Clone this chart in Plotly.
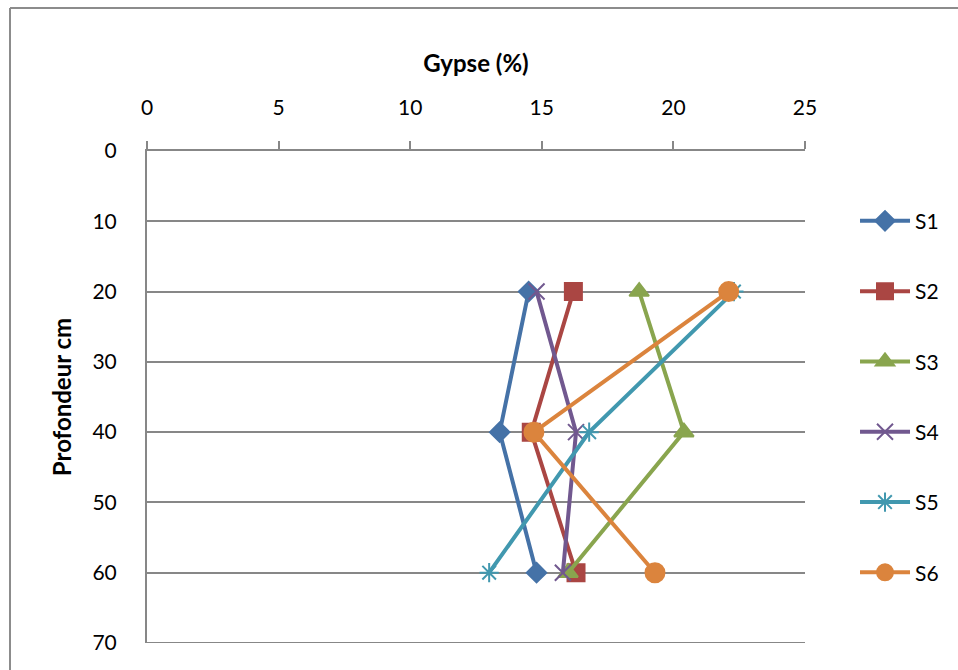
import plotly.graph_objects as go

# Gypsum content (%) by sampling depth (cm) for six soil profiles
depths = [20, 40, 60]
series_names = ["S1", "S2", "S3", "S4", "S5", "S6"]
s1 = [14.5, 13.4, 14.8]
s2 = [16.2, 14.6, 16.3]
s3 = [18.7, 20.4, 16.0]
s4 = [14.8, 16.3, 15.8]
s5 = [22.3, 16.8, 13.0]
s6 = [22.1, 14.7, 19.3]
x_ticks = [0, 5, 10, 15, 20, 25]
y_ticks = [0, 10, 20, 30, 40, 50, 60, 70]

colors = ["#4572A7", "#AA4643", "#89A54E", "#71588F", "#4198AF", "#DB843D"]
symbols = ["diamond", "square", "triangle-up", "x-thin-open", "asterisk-open", "circle"]
sizes = [15, 17, 17, 16, 16, 19]

FONT = "Lato, 'Open Sans', sans-serif"
GRID = "#878787"

fig = go.Figure()
for name, vals, col, sym, sz in zip(series_names, [s1, s2, s3, s4, s5, s6],
                                     colors, symbols, sizes):
    fig.add_trace(go.Scatter(
        x=vals, y=depths, name=name, mode="lines+markers",
        legendgroup=name,
        line=dict(color=col, width=4),
        marker=dict(symbol=sym, size=sz, color=col,
                    line=dict(color=col, width=2)),
    ))

fig.update_layout(
    width=958, height=670,
    margin=dict(l=147, r=153, t=151, b=27),
    paper_bgcolor="white", plot_bgcolor="white",
    font=dict(family=FONT, size=21, color="black"),
    showlegend=True,
    legend=dict(x=1.076, y=0.899, xanchor="left", yanchor="top",
                font=dict(size=21), tracegroupgap=40,
                itemwidth=50, bgcolor="rgba(0,0,0,0)"),
    xaxis=dict(
        side="top", range=[0, 25], tickvals=x_ticks,
        showgrid=False, zeroline=False,
        showline=True, linecolor=GRID, linewidth=2,
        ticks="outside", ticklen=8, tickwidth=1.5, tickcolor=GRID,
        ticklabelstandoff=18,
        title=dict(text="<b>Gypse (%)</b>", font=dict(size=24), standoff=14),
    ),
    yaxis=dict(
        range=[70, 0], tickvals=y_ticks,
        showgrid=True, gridcolor=GRID, gridwidth=2,
        zeroline=False,
        showline=True, linecolor=GRID, linewidth=2,
        ticks="", ticklabelstandoff=24,
        title=dict(text="<b>Profondeur cm</b>", font=dict(size=24), standoff=14),
    ),
    shapes=[
        # grid line at the bottom of the depth range
        dict(type="line", xref="paper", yref="y",
             x0=0, x1=1, y0=y_ticks[-1], y1=y_ticks[-1],
             line=dict(color=GRID, width=2)),
        # outer chart frame (left and top edges visible)
        dict(type="line", xref="paper", yref="paper",
             x0=-0.2082, x1=-0.2082, y0=1.2907, y1=-0.2,
             line=dict(color="#8C8C8C", width=2)),
        dict(type="line", xref="paper", yref="paper",
             x0=-0.2082, x1=1.3, y0=1.2907, y1=1.2907,
             line=dict(color="#8C8C8C", width=2)),
    ],
)

fig.write_html("out.html")
